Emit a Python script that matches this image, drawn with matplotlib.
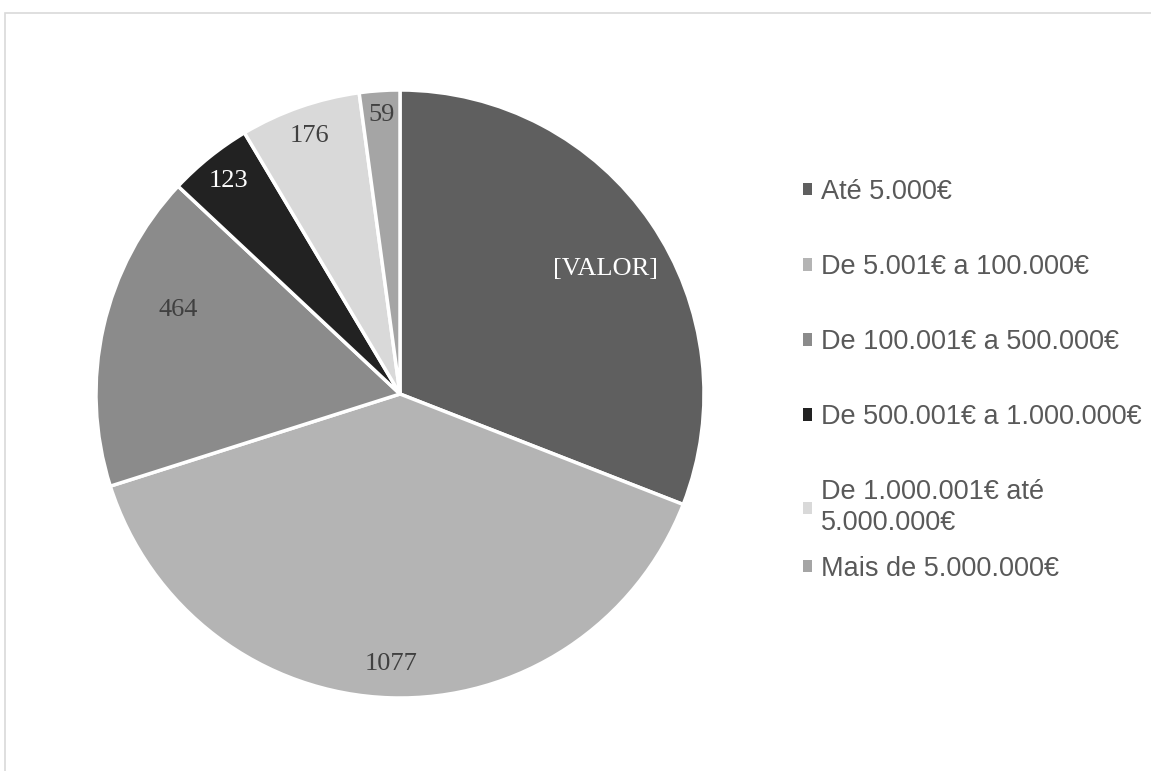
import numpy as np
import matplotlib.pyplot as plt
from matplotlib.patches import Patch, Rectangle

# dados (o 1º valor não aparece, rótulo "[VALOR]"; estimado pelo ângulo)
categorias = ["Até 5.000€", "De 5.001€ a 100.000€", "De 100.001€ a 500.000€",
              "De 500.001€ a 1.000.000€", "De 1.000.001€ até\n5.000.000€",
              "Mais de 5.000.000€"]
valores = [850, 1077, 464, 123, 176, 59]
rotulos = ["[VALOR]", "1077", "464", "123", "176", "59"]

cores = ["#5f5f5f", "#b4b4b4", "#8b8b8b", "#222222", "#d9d9d9", "#a5a5a5"]
cor_rotulo = ["white", "#404040", "#404040", "white", "#404040", "#404040"]
dist_rotulo = [0.79, 0.89, 0.78, 0.90, 0.90, 0.92]
desvio_ang = [-3, 0, -8, 0, 0, 0]   # ajuste do ângulo do rótulo (graus)

W, H = 1151, 771
fig = plt.figure(figsize=(W / 100, H / 100), dpi=100)

# moldura cinzenta clara
fig.patches.append(Rectangle((4.5 / W, -0.01), 1.2, 1 - 12.5 / H + 0.01,
                             transform=fig.transFigure, fill=False,
                             edgecolor="#d9d9d9", linewidth=1.2))

cx, cy, R = 400, 394, 304
ax = fig.add_axes([(cx - R) / W, (H - cy - R) / H, 2 * R / W, 2 * R / H])
wedges, _ = ax.pie(valores, colors=cores, startangle=90, counterclock=False,
                   wedgeprops=dict(edgecolor="white", linewidth=2.5, clip_on=False))
ax.set_xlim(-1, 1)
ax.set_ylim(-1, 1)
ax.set_aspect("equal")

for w, txt, c, d, da in zip(wedges, rotulos, cor_rotulo, dist_rotulo, desvio_ang):
    ang = np.deg2rad((w.theta1 + w.theta2) / 2 + da)
    ax.text(d * np.cos(ang), d * np.sin(ang), txt, ha="center", va="center",
            color=c, fontsize=19, family="Liberation Serif")

handles = [Patch(facecolor=c, edgecolor="none") for c in cores]
opts = dict(frameon=False, prop={"family": "Liberation Sans", "size": 19.5},
            labelcolor="#595959", handlelength=0.33, handleheight=0.33,
            handletextpad=0.35, borderpad=0, borderaxespad=0,
            loc="upper left", bbox_transform=fig.transFigure)
leg1 = ax.legend(handles[:5], categorias[:5], labelspacing=1.81,
                 bbox_to_anchor=(803 / W, 1 - 179 / H), **opts)
for t in leg1.get_texts():
    t.set_linespacing(1.25)
ax.add_artist(leg1)
ax.legend(handles[5:], categorias[5:], bbox_to_anchor=(803 / W, 1 - 556 / H), **opts)

fig.savefig("out.png", dpi=100)
